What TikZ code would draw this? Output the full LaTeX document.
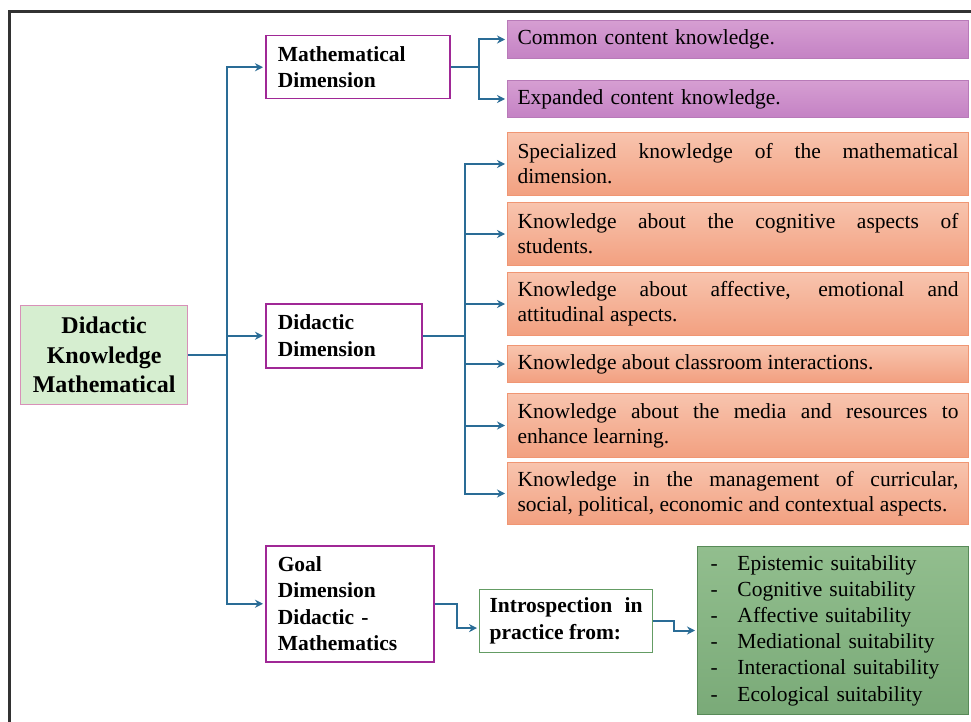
\documentclass[tikz,border=0pt]{standalone}
\usepackage{fontspec}
\setmainfont{Liberation Serif}
\usetikzlibrary{arrows.meta}
\definecolor{arrowblue}{RGB}{42,108,150}
\definecolor{magb}{RGB}{160,40,150}
\definecolor{rootfill}{RGB}{214,238,208}
\definecolor{rootdraw}{RGB}{216,144,184}
\definecolor{purtop}{RGB}{214,158,210}
\definecolor{purbot}{RGB}{196,130,196}
\definecolor{purdraw}{RGB}{184,122,184}
\definecolor{orntop}{RGB}{248,196,174}
\definecolor{ornbot}{RGB}{242,160,128}
\definecolor{orndraw}{RGB}{240,150,115}
\definecolor{grntop}{RGB}{146,190,142}
\definecolor{grnbot}{RGB}{122,170,120}
\definecolor{grndraw}{RGB}{88,138,88}
\definecolor{introdraw}{RGB}{100,156,100}
\definecolor{framec}{RGB}{50,50,50}
\begin{document}
\begin{tikzpicture}[x=1pt,y=-1pt,
  ln/.style={draw=arrowblue, line width=2pt},
  arr/.style={ln, -{Stealth[length=8pt,width=8pt]}, shorten >=2pt},
  dimbox/.style={draw=magb, line width=1.5pt, fill=white, anchor=north west,
    inner xsep=12pt, inner ysep=0pt, align=left,
    font=\bfseries\fontsize{21.5}{26.5}\selectfont},
  purbox/.style={draw=purdraw, line width=1pt, top color=purtop, bottom color=purbot,
    anchor=north west, inner xsep=10pt, inner ysep=0pt, text width=441pt,
    minimum width=461pt, align=left, font=\fontsize{21.5}{25}\selectfont},
  ornbox/.style={draw=orndraw, line width=1pt, top color=orntop, bottom color=ornbot,
    anchor=north west, inner xsep=10pt, inner ysep=0pt, text width=441pt,
    minimum width=461pt, align=justify, font=\fontsize{21.5}{25}\selectfont},
]
\useasboundingbox (0,0) rectangle (971,722);
\fill[white] (0,0) rectangle (971,722);
\draw[framec, line width=3pt] (9,740) -- (9,12) -- (990,12);

% root
\node[draw=rootdraw, line width=1.2pt, fill=rootfill, anchor=north west,
  minimum width=167pt, minimum height=99pt, inner sep=0pt, align=center,
  font=\bfseries\fontsize{24}{29.5}\selectfont] (root) at (20,305)
  {Didactic\\Knowledge\\Mathematical};

% dimensions
\node[dimbox, text width=160pt, minimum height=63pt] (md) at (265,35) {Mathematical\\Dimension};
\node[dimbox, text width=132pt, minimum height=64pt] (dd) at (265,303) {Didactic\\Dimension};
\node[dimbox, text width=144pt, minimum height=116pt] (goal) at (265,545)
  {Goal\\Dimension\\Didactic -\\Mathematics};

% purple
\node[purbox, minimum height=38pt] (p1) at (507,20) {Common content knowledge.};
\node[purbox, minimum height=37pt] (p2) at (507,80) {Expanded content knowledge.};

% orange
\node[ornbox, minimum height=63pt] (o1) at (507,132)
  {Specialized knowledge of the mathematical\linebreak dimension.};
\node[ornbox, minimum height=63pt] (o2) at (507,202)
  {Knowledge about the cognitive aspects of\linebreak students.};
\node[ornbox, minimum height=63pt] (o3) at (507,272)
  {Knowledge about affective, emotional and\linebreak attitudinal aspects.};
\node[ornbox, minimum height=37pt] (o4) at (507,345)
  {Knowledge about classroom interactions.};
\node[ornbox, minimum height=64pt] (o5) at (507,393)
  {Knowledge about the media and resources to\linebreak enhance learning.};
\node[ornbox, minimum height=62pt] (o6) at (507,462)
  {Knowledge in the management of curricular,\linebreak social, political, economic and contextual aspects.};

% introspection
\node[draw=introdraw, line width=1.2pt, fill=white, anchor=north west,
  inner xsep=10pt, inner ysep=0pt, text width=153pt, minimum height=63pt,
  align=justify, font=\bfseries\fontsize{21.5}{27}\selectfont] (intro) at (479,589)
  {Introspection in\linebreak practice from:};

% green list
\node[draw=grndraw, line width=1pt, top color=grntop, bottom color=grnbot,
  anchor=north west, inner xsep=13pt, inner ysep=0pt, text width=245pt,
  minimum height=168pt, align=left, font=\fontsize{21.5}{26.2}\selectfont] (grn) at (697,546)
  {\makebox[27pt][l]{-}Epistemic suitability\\
   \makebox[27pt][l]{-}Cognitive suitability\\
   \makebox[27pt][l]{-}Affective suitability\\
   \makebox[27pt][l]{-}Mediational suitability\\
   \makebox[27pt][l]{-}Interactional suitability\\
   \makebox[27pt][l]{-}Ecological suitability};

% connectors
\draw[ln] (root.east) -- ++(39,0) coordinate (tk);
\draw[arr] (tk) |- (md.west);
\draw[arr] (tk) |- (dd.west);
\draw[arr] (tk) |- (goal.west);

\draw[ln] (md.east) -- ++(28,0) coordinate (mb);
\draw[arr] (mb) |- (p1.west);
\draw[arr] (mb) |- (p2.west);

\draw[ln] (dd.east) -- ++(42,0) coordinate (db);
\foreach \n in {o1,o2,o3,o4,o5,o6} \draw[arr] (db) |- (\n.west);

\draw[arr] (goal.east) -- ++(22,0) |- ([yshift=-7pt]intro.west);
\draw[arr] (intro.east) -- ++(21,0) |- (grn.west);
\end{tikzpicture}
\end{document}
